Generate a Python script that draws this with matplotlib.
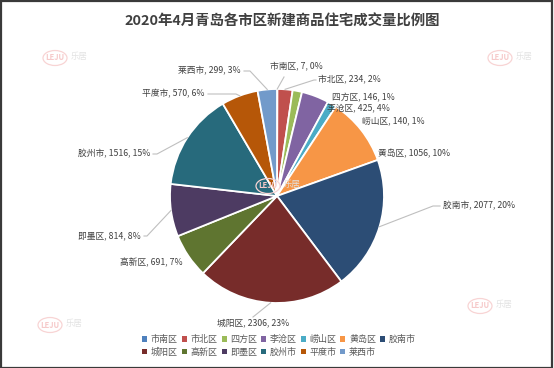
import numpy as np
import matplotlib
matplotlib.use("Agg")
import matplotlib.pyplot as plt
from matplotlib.patches import Rectangle, Ellipse

plt.rcParams['font.family'] = ['Noto Sans CJK SC', 'DejaVu Sans']

# ---------------- data ----------------
title = "2020年4月青岛各市区新建商品住宅成交量比例图"
districts = ["市南区", "市北区", "四方区", "李沧区", "崂山区", "黄岛区", "胶南市",
             "城阳区", "高新区", "即墨区", "胶州市", "平度市", "莱西市"]
volumes = [7, 234, 146, 425, 140, 1056, 2077, 2306, 691, 814, 1516, 570, 299]
percent_labels = ["0%", "2%", "1%", "4%", "1%", "10%", "20%",
                  "23%", "7%", "8%", "15%", "6%", "3%"]
colors = ["#4F81BD", "#C0504D", "#9BBB59", "#8064A2", "#4BACC6", "#F79646", "#2C4D75",
          "#772C2A", "#5F7530", "#4D3B62", "#276A7C", "#B65708", "#729ACA"]

# ---------------- layout (pixel positions of labels) ----------------
W, H = 554, 368
CX, CY, R = 277, 196, 107  # pie centre / radius in pixels

def px(x, y):
    return ((x - CX) / R, (CY - y) / R)

label_pos = [(296, 67, 'center'), (318, 80, 'left'), (332, 98, 'left'), (327, 108, 'left'),
             (362, 121, 'left'), (378, 154, 'left'), (443, 206, 'left'),
             (217, 323, 'left'), (183, 263, 'right'), (141, 236, 'right'),
             (150, 154, 'right'), (205, 94, 'right'), (241, 71, 'right')]
# leader lines: index -> (elbow, end) in pixels
leaders = {0: ((284, 77), (284, 77)), 1: ((314, 80), (316, 80)),
           12: ((250, 71), (244, 71)), 11: ((236, 94), (208, 94)),
           10: ((157, 154), (153, 154)), 9: ((147, 236), (144, 236)),
           6: ((433, 206), (440, 206)), 7: ((253, 317), (253, 317))}

fig = plt.figure(figsize=(W / 100, H / 100), dpi=100)
ax = fig.add_axes([0, 0, 1, 1])

wedges, _ = ax.pie(volumes, colors=colors, startangle=90, counterclock=False,
                   radius=1.0, center=(0, 0),
                   wedgeprops=dict(edgecolor='white', linewidth=1.3))
ax.set_xlim(-CX / R, (W - CX) / R)
ax.set_ylim(-(H - CY) / R, CY / R)
ax.set_aspect('auto')
ax.axis('off')

total = sum(volumes)
cum = np.cumsum([0] + volumes[:-1])
for i, (name, v, pct) in enumerate(zip(districts, volumes, percent_labels)):
    x, y, ha = label_pos[i]
    tx, ty = px(x, y)
    ax.text(tx, ty, f"{name}, {v}, {pct}", ha=ha, va='center', fontsize=6.3,
            color='#404040', zorder=5)
    if i in leaders:
        mid = (cum[i] + v / 2) / total
        ang = np.deg2rad(90 - 360 * mid)
        ex, ey = np.cos(ang), np.sin(ang)
        (bx, by), (dx, dy) = leaders[i]
        b = px(bx, by)
        d = px(dx, dy)
        ax.plot([ex, b[0], d[0]], [ey, b[1], d[1]], color='#BFBFBF', lw=0.8, zorder=4)

fig.text(282 / W, 1 - 22 / H, title, ha='center', va='center', fontsize=10.4,
         fontweight='bold', color='#404040')

# legend: row-major order (matplotlib fills columns first)
ncol = 7
order = []
for j in range(ncol):
    order.append(j)
    if j + ncol < len(districts):
        order.append(j + ncol)
handles = [Rectangle((0, 0), 1, 1, facecolor=colors[k], edgecolor='none') for k in order]
labels = [districts[k] for k in order]
fig.legend(handles, labels, loc='center', bbox_to_anchor=(279 / W, 1 - 346 / H),
           ncol=ncol, frameon=False, fontsize=6.5, handlelength=0.55, handleheight=0.55,
           handletextpad=0.4, columnspacing=0.45, labelspacing=0.35,
           labelcolor='#595959', borderpad=0.1)

# watermarks
def watermark(x, y):
    xf, yf = x / W, 1 - y / H
    fig.patches.append(Ellipse((xf, yf), 24 / W, 15 / H, transform=fig.transFigure,
                               facecolor='none', edgecolor='#F8D4D4', lw=0.9, zorder=6))
    fig.text(xf, yf, "LEJU", ha='center', va='center', fontsize=5.5, color='#F6CACA',
             fontweight='bold', zorder=6)
    fig.text(xf + 16 / W, yf + 1.5 / H, "乐居", ha='left', va='center', fontsize=6,
             color='#E2E2E2', zorder=6)

watermark(55, 58)
watermark(500, 58)
watermark(50, 325)
watermark(480, 306)
watermark(268, 186)

# outer frame
fig.patches.append(Rectangle((0.5 / W, 0.5 / H), 1 - 2.5 / W, 1 - 1.5 / H,
                             transform=fig.transFigure, facecolor='none',
                             edgecolor='#3a3a3a', lw=1.6, zorder=10))

fig.savefig("out.png", dpi=100)
